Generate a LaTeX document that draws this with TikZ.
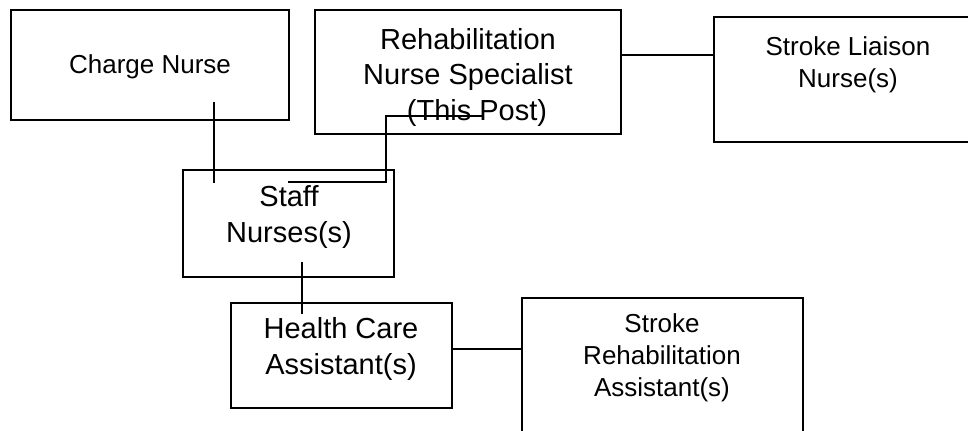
\documentclass[tikz,border=0pt]{standalone}
\usepackage{fontspec}
\setmainfont{Liberation Sans}
\usetikzlibrary{fit}

\def\bigText{\fontsize{21.75}{26.5}\selectfont}
\def\smallText{\fontsize{19.5}{24}\selectfont}

\tikzset{
    postBox/.style={draw,inner sep=0pt},
    postText/.style={align=center,anchor=base,inner sep=0pt}
}

\begin{document}
\begin{tikzpicture}[x=0.75pt,y=-0.75pt]
            \clip (0,0) rectangle (968,430);
            \begin{scope}[line width=1.5pt]

                % boxes
                \node [postBox,fit={(11,10) (289,120)}] (charge) {};
                \node [postBox,fit={(315,10) (621,134)}] (rehab) {};
                \node [postBox,fit={(714,17) (990,142)}] (liaison) {};
                \node [postBox,fit={(183,170) (394,277)}] (staff) {};
                \node [postBox,fit={(231,303) (452,408)}] (hca) {};
                \node [postBox,fit={(522,298) (803,445)}] (sra) {};

                % texts (base = last line)
                \node [postText,font=\smallText] (chargeText) at (150,73) {Charge Nurse};
                \node [postText,font=\bigText] (rehabText) at (468,120) {Rehabilitation\\Nurse Specialist\\\hspace*{13.5pt}(This Post)};
                \node [postText,font=\smallText] (liaisonText) at (848,87) {Stroke Liaison\\Nurse(s)};
                \node [postText,font=\bigText] (staffText) at (289,242) {Staff\\Nurses(s)};
                \node [postText,font=\bigText] (hcaText) at (341,374) {Health Care\\Assistant(s)};
                \node [postText,font=\smallText] (sraText) at (662,396) {Stroke\\Rehabilitation\\Assistant(s)};

                % lines
                \coordinate (chargeEnd) at (214,102);
                \coordinate (staffTop) at (214,183);
                \coordinate (rehabEnd) at (483,116);
                \coordinate (staffEnd) at (288,182);
                \coordinate (staffBottom) at (302,262);
                \coordinate (hcaTop) at (302,314);

                \draw (chargeEnd) -- (staffTop);
                \draw (rehabEnd) -- (386,116) -- (386,182) -- (staffEnd);
                \draw (rehab.east |- 0,55) -- (liaison.west |- 0,55);
                \draw (staffBottom) -- (hcaTop);
                \draw (hca.east |- 0,349) -- (sra.west |- 0,349);
            \end{scope}
        \end{tikzpicture}
\end{document}
